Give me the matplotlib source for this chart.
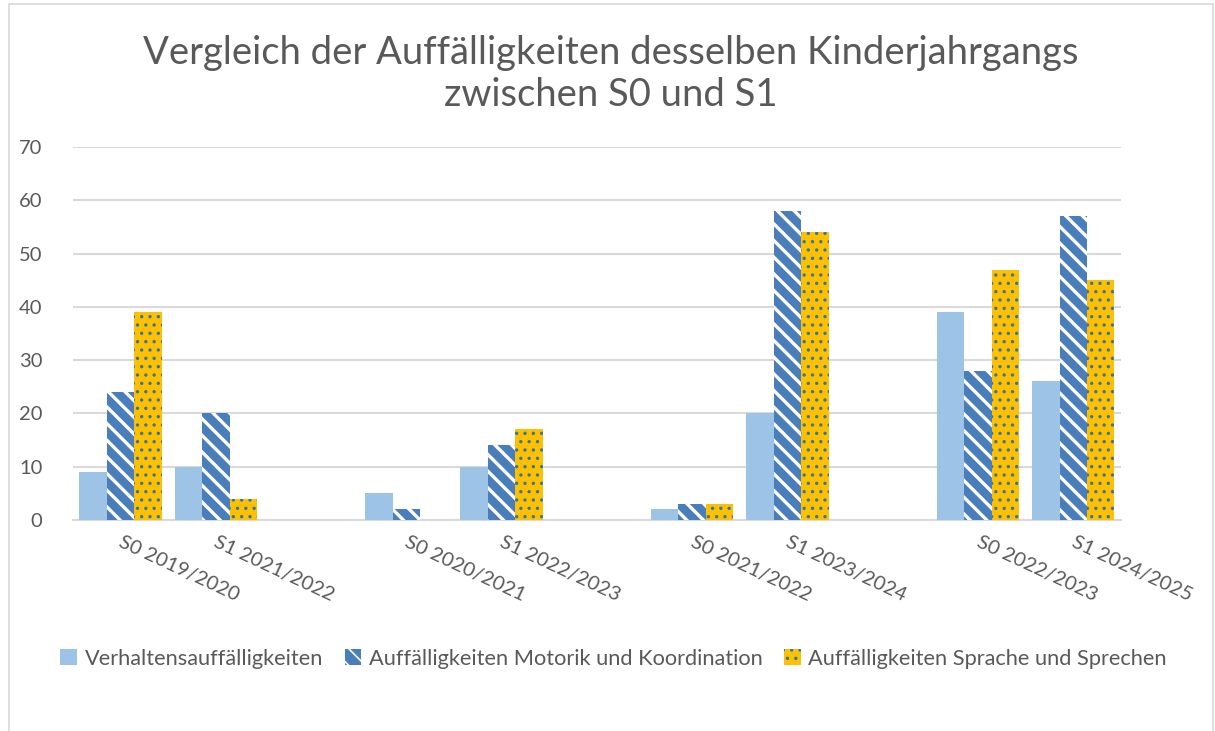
#%% Imports

import matplotlib
matplotlib.use('Agg')
import matplotlib.pyplot as plt
import matplotlib.patches as patches
import numpy as np


#%% Data

categories = ['S0 2019/2020', 'S1 2021/2022', '',
              'S0 2020/2021', 'S1 2022/2023', '',
              'S0 2021/2022', 'S1 2023/2024', '',
              'S0 2022/2023', 'S1 2024/2025']

verhalten = [9, 10, 0, 5, 10, 0, 2, 20, 0, 39, 26]
motorik = [24, 20, 0, 2, 14, 0, 3, 58, 0, 28, 57]
sprache = [39, 4, 0, 0, 17, 0, 3, 54, 0, 47, 45]

series_names = ['Verhaltensauffälligkeiten',
                'Auffälligkeiten Motorik und Koordination',
                'Auffälligkeiten Sprache und Sprechen']

title_text = 'Vergleich der Auffälligkeiten desselben Kinderjahrgangs\nzwischen S0 und S1'


#%% Style

plt.rcParams['font.family'] = ['Lato', 'DejaVu Sans']
text_color = '#595959'
grid_color = '#D9D9D9'
light_blue = '#9DC3E6'
mid_blue = '#4A7EBB'
gold = '#FFC000'
dot_blue = '#2E75B6'


#%% Plot

fig = plt.figure(figsize=(12.15, 7.31), dpi=100)
ax = fig.add_axes([0.060, 0.2886, 0.8626, 0.5103])

x = np.arange(len(categories))
w = 0.288

def set_hlw(bars, lw):
    for b in bars:
        if hasattr(b, 'set_hatch_linewidth'):
            b.set_hatch_linewidth(lw)

plt.rcParams['hatch.linewidth'] = 2.4
b1 = ax.bar(x - w, verhalten, w, color=light_blue, linewidth=0, zorder=3)
b2 = ax.bar(x, motorik, w, facecolor=mid_blue, edgecolor='white',
            hatch='\\\\', linewidth=0, zorder=3)
set_hlw(b2, 2.4)
plt.rcParams['hatch.linewidth'] = 1.2
b3 = ax.bar(x + w, sprache, w, facecolor=gold, edgecolor=dot_blue,
            hatch='..', linewidth=0, zorder=3)
set_hlw(b3, 1.2)

ax.set_xlim(-0.5, len(categories) - 0.5)
ax.set_ylim(0, 70)
ax.set_yticks(range(0, 71, 10))
ax.yaxis.grid(True, color=grid_color, linewidth=1.5, zorder=0)
ax.set_axisbelow(True)

for s in ['top', 'right', 'left']:
    ax.spines[s].set_visible(False)
ax.spines['bottom'].set_color(grid_color)
ax.spines['bottom'].set_linewidth(1.5)

ax.tick_params(axis='y', length=0, labelsize=14.5, labelcolor=text_color, pad=22)
ax.tick_params(axis='x', length=0)
ax.set_xticks(x)
ax.set_xticklabels([])

# Rotated category labels, starting at category centre
for i, lab in enumerate(categories):
    if lab:
        ax.text(i + 0.03, -2.6, lab, rotation=-25, rotation_mode='anchor',
                ha='left', va='top', fontsize=14.5, color=text_color,
                transform=ax.transData, clip_on=False)

fig.text(0.503, 0.899, title_text, ha='center', va='center', fontsize=27.5,
         color=text_color, linespacing=1.2)

handles = [patches.Patch(facecolor=light_blue, linewidth=0),
           patches.Patch(facecolor=mid_blue, edgecolor='white', hatch='\\\\', linewidth=0),
           patches.Patch(facecolor=gold, edgecolor=dot_blue, hatch='..', linewidth=0)]
leg = fig.legend(handles, series_names, loc='center', bbox_to_anchor=(0.505, 0.099),
                 ncol=3, frameon=False, fontsize=15.7, handlelength=0.75,
                 handleheight=0.75, handletextpad=0.35, columnspacing=1.0)
for t in leg.get_texts():
    t.set_color(text_color)

# Chart frame
frame = patches.Rectangle((0.007, -0.05), 0.991, 1.045, transform=fig.transFigure,
                          fill=False, edgecolor=grid_color, linewidth=1.2)
fig.patches.append(frame)

plt.savefig('out.png', dpi=100)
